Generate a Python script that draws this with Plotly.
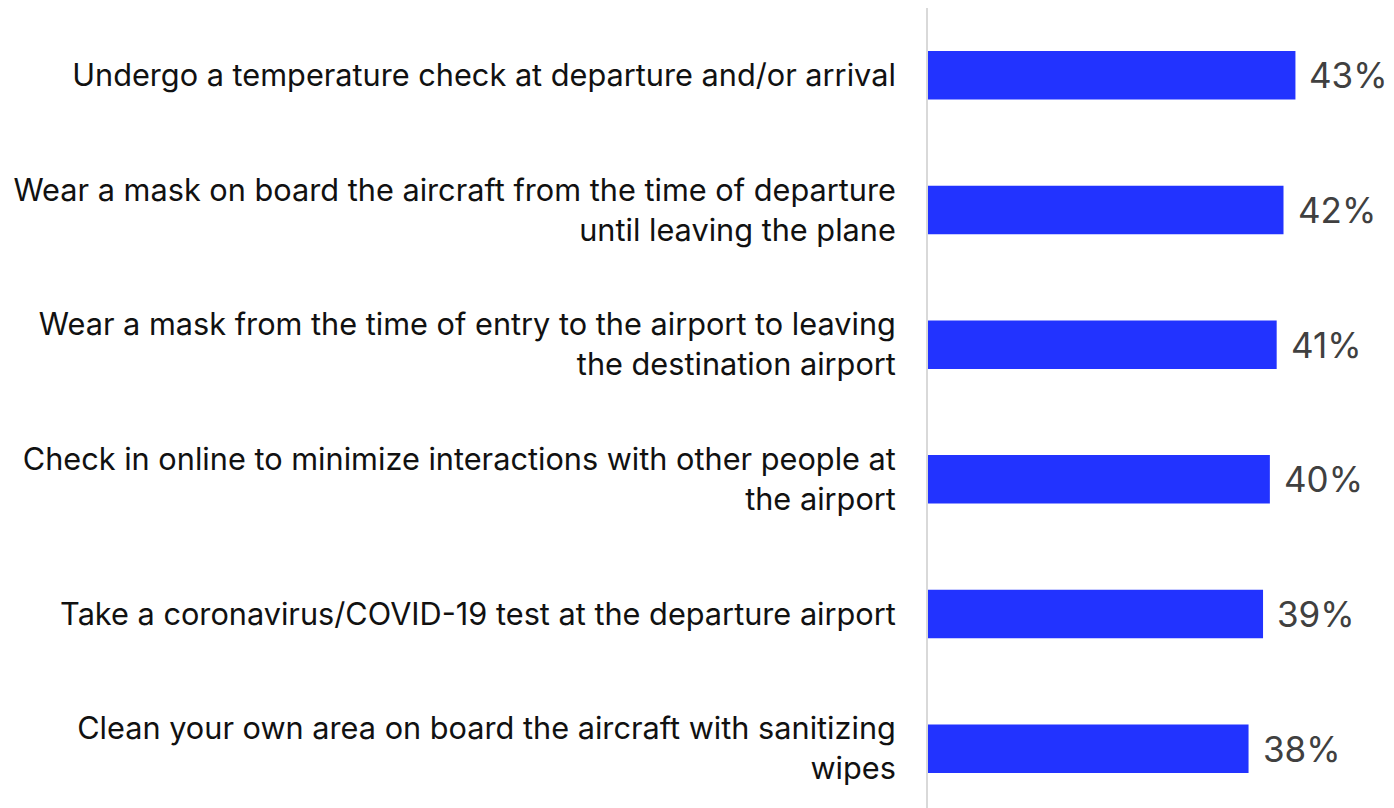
import plotly.graph_objects as go

measures = [
    "Undergo a temperature check at departure and/or arrival",
    "Wear a mask on board the aircraft from the time of departure<br>until leaving the plane",
    "Wear a mask from the time of entry to the airport to leaving<br>the destination airport",
    "Check in online to minimize interactions with other people at<br>the airport",
    "Take a coronavirus/COVID-19 test at the departure airport",
    "Clean your own area on board the aircraft with sanitizing<br>wipes",
]
shares = [43.1, 41.7, 40.9, 40.1, 39.3, 37.6]
share_labels = ["43%", "42%", "41%", "40%", "39%", "38%"]

fig = go.Figure(go.Bar(
    x=shares,
    y=measures,
    orientation="h",
    marker=dict(color="#2233ff", line=dict(width=0)),
    width=0.36,
))

# value labels placed just right of each bar end
for m, v, lab in zip(measures, shares, share_labels):
    fig.add_annotation(
        x=v, y=m, text=lab, showarrow=False,
        xanchor="left", xshift=12,
        font=dict(family="Inter", size=35, color="#404040"),
    )

fig.update_layout(
    width=1394, height=808,
    margin=dict(l=920, r=0, t=0, b=0),
    plot_bgcolor="white",
    paper_bgcolor="white",
    showlegend=False,
    font=dict(family="Inter", size=30.7, color="#111111"),
)
fig.update_xaxes(range=[0, 55.6], visible=False)
fig.update_yaxes(
    autorange="reversed",
    showline=True, linecolor="#d9d9d9", linewidth=2,
    showgrid=False, ticks="", ticklabelstandoff=24,
)

fig.write_html("out.html")
